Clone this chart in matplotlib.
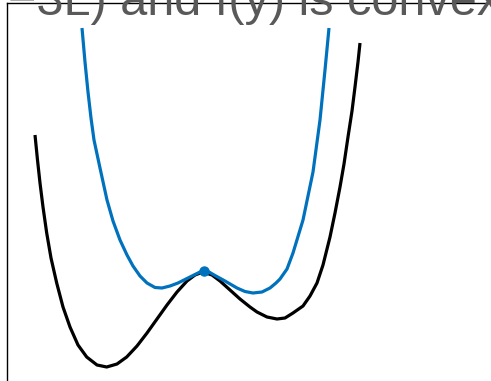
import numpy as np
import matplotlib.pyplot as plt

# curves (x, height) in pixel-like units
f_x = [35, 37.5, 40, 43, 46.7, 51, 56.7, 63, 70, 78, 86.7, 97, 106.7, 117, 126.7,
       137, 147, 157, 167, 177, 187, 195, 203, 212, 220, 230, 240, 250, 257, 267,
       277, 285, 293, 303, 310, 317, 323, 330, 335, 340, 344, 348, 352, 355, 358, 360]
f_py = [135, 160, 183, 207, 233, 258, 283, 307, 327, 345, 357, 365, 367, 364, 357,
        346, 333, 319, 305, 292, 281, 275, 272, 275, 281, 290, 299, 307, 312, 317,
        319, 318, 313, 306, 296, 283, 265, 237, 213, 187, 164, 137, 111, 87, 62, 43]

g_x = [82, 85, 88, 91, 94, 97, 100, 107, 113, 120, 127, 133, 140, 147, 155, 162,
       170, 178, 186, 194, 200, 204, 209, 215, 225, 237, 245, 253, 262, 270, 276,
       280, 287, 293, 303, 313, 320, 325, 329]
g_py = [28, 62, 92, 118, 140, 154, 168, 200, 221, 240, 255, 266, 276, 283, 287.5,
        288, 286, 283, 279, 275, 272, 271, 272, 275.5, 281, 288, 291.5, 293, 292,
        288, 283, 279, 269, 253, 220, 172, 120, 70, 28]

touch_x = [204]
touch_py = [271]

H = 381
f_y = H - np.array(f_py)
g_y = H - np.array(g_py)
touch_y = H - np.array(touch_py)

fig = plt.figure(figsize=(4.91, 3.81), dpi=100)
ax = fig.add_axes([7 / 491, -10 / 381, (520 - 7) / 491, (381 - 3 + 10) / 381])
ax.set_xlim(7, 520)
ax.set_ylim(-10, 378)

ax.plot(f_x, f_y, color="black", lw=2.3, solid_capstyle="butt")
ax.plot(g_x, g_y, color="#0072BD", lw=2.3, solid_capstyle="butt")
ax.plot(touch_x, touch_y, "o", color="#0072BD", ms=6.5)

ax.set_xticks([])
ax.set_yticks([])
for s in ["right", "bottom"]:
    ax.spines[s].set_visible(False)
for s in ["left", "top"]:
    ax.spines[s].set_linewidth(1.0)

fig.text(8 / 491, 1 - 15 / 381, "\u22123L) and f(y) is convex", fontsize=35,
         color="#595959", family="Liberation Sans", va="baseline")

fig.savefig("out.png", dpi=100)
